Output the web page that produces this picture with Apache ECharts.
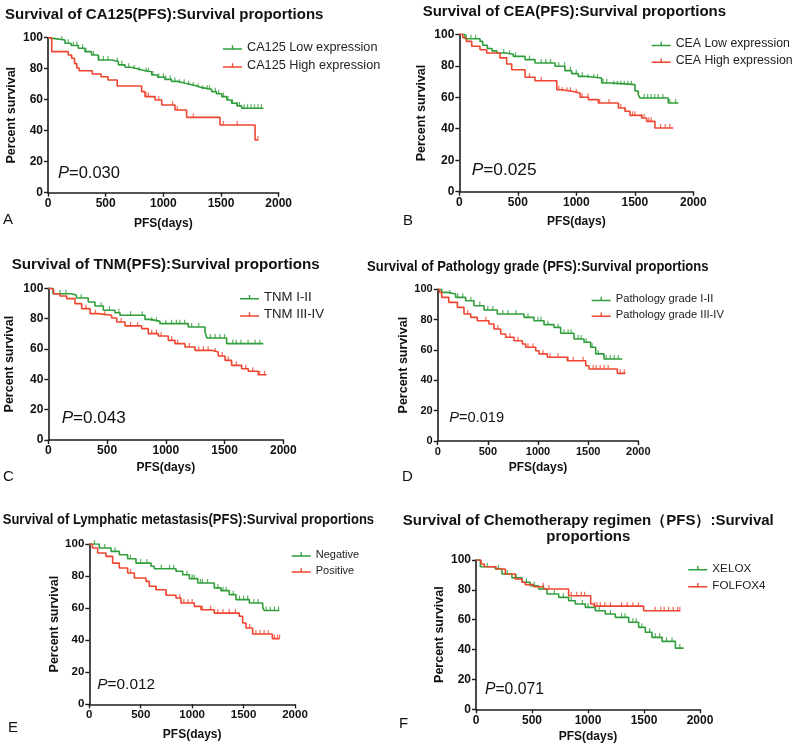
<!DOCTYPE html>
<html><head><meta charset="utf-8">
<script src="https://cdn.jsdelivr.net/npm/echarts@6/dist/echarts.min.js"></script>
<style>html,body{margin:0;padding:0;background:#fff}#c{width:800px;height:746px}</style>
</head><body><div id="c"></div>
<script>
// ---------------- DATA ----------------
const xTicks = [0, 500, 1000, 1500, 2000];
const yTicks = [0, 20, 40, 60, 80, 100];

// Panel A: CA125
const aLow = [[0,100],[17,99.4],[60,98.5],[147,96.4],[200,95],[263,93.2],[320,91],[378,88.8],[436,85.6],[552,84.6],[610,82.5],[668,80.9],[720,79.8],[783,78.7],[841,78],[899,75.9],[950,74.5],[1014,73.1],[1070,71.8],[1130,70.6],[1190,69.7],[1246,68.8],[1290,67.8],[1332,66.7],[1419,65.2],[1460,63.8],[1506,62],[1550,59.8],[1592,57.7],[1640,56],[1679,54.5],[1867,54.5]];
const aHigh = [[0,100],[32,91],[176,88.8],[205,86.7],[230,83.3],[250,80.5],[270,78.7],[384,76.6],[460,74.8],[520,72.7],[600,68.8],[812,65.2],[841,62],[928,59.8],[986,56.6],[1101,53.4],[1202,48.6],[1491,43.7],[1795,34],[1823,34]];
const aLowCens = [120,176,220,250,300,330,395,440,480,520,600,640,700,745,790,850,870,910,960,1000,1020,1060,1100,1140,1180,1220,1260,1300,1340,1380,1400,1450,1480,1520,1560,1600,1640,1660,1700,1730,1760,1790,1820,1850];
const aHighCens = [850,870,960,1080,1120,1260,1520,1640,1820];

// Panel B: CEA
const bLow = [[0,100],[49,97.2],[177,95.5],[200,93],[240,91],[280,89.5],[320,88.1],[400,87.3],[462,86],[562,83.9],[647,81.8],[818,79.7],[903,76.9],[960,75],[1017,73.3],[1074,72.2],[1217,69.1],[1302,68],[1502,64],[1530,61.5],[1545,59.5],[1786,56.4],[1872,56.4]];
const bHigh = [[0,100],[30,97.8],[60,95.5],[106,92.4],[177,90.2],[234,88.1],[348,85],[405,81.1],[448,77.5],[562,72.7],[647,70.5],[833,64.8],[875,63.8],[960,62.7],[1032,60],[1103,58.5],[1188,56.4],[1360,53.2],[1416,51.1],[1459,48.5],[1559,46.8],[1601,44.7],[1672,40.5],[1829,40.5]];
const bLowCens = [60,100,140,380,430,480,600,700,740,780,850,900,950,1000,1050,1100,1150,1180,1230,1260,1320,1350,1380,1410,1440,1470,1580,1610,1640,1670,1700,1740,1800,1850];
const bHighCens = [600,700,850,880,920,950,1000,1050,1100,1200,1280,1380,1420,1480,1500,1560,1580,1620,1640,1720,1760,1800];

// Panel C: TNM
const cLow = [[0,100],[40,96.4],[199,95.4],[240,93.6],[340,91],[397,88.3],[468,85.5],[567,83.9],[610,82.2],[823,79.5],[870,78.2],[950,76.7],[1191,74.5],[1334,71.2],[1350,67.2],[1518,63.5],[1830,63.5]];
const cHigh = [[0,100],[20,99],[45,96.4],[99,94.9],[156,93.2],[227,89.9],[284,86.6],[355,83.3],[426,82.2],[539,80.4],[582,77.8],[653,75.2],[795,73.4],[851,70.1],[936,68.6],[1021,65.7],[1078,63.5],[1163,61.3],[1248,59.1],[1390,58],[1447,55.4],[1504,52.5],[1560,49.2],[1645,47],[1702,45.3],[1787,43],[1858,43]];
const cLowCens = [100,150,280,450,520,600,700,800,880,920,1000,1050,1090,1120,1160,1220,1280,1380,1420,1460,1500,1570,1600,1640,1700,1760,1800];
const cHighCens = [320,400,480,620,700,760,880,920,960,1050,1100,1200,1280,1320,1360,1420,1480,1530,1600,1680,1740,1800,1840];

// Panel D: Pathology grade
const dLow = [[0,100],[40,98],[96,96.9],[179,94.7],[279,92.5],[362,89.2],[462,86.4],[594,83.7],[860,81.5],[960,79.3],[1060,76.7],[1160,74.9],[1226,71],[1359,67.2],[1459,65.1],[1525,61.8],[1575,57.4],[1658,54.1],[1840,54.1]];
const dHigh = [[0,100],[20,98],[40,94.7],[110,91.4],[196,88.1],[262,83.7],[329,81.5],[395,79.3],[511,77.1],[561,73.8],[628,70.5],[678,68.4],[761,66.1],[844,63.9],[877,61.8],[977,59.5],[1010,57.4],[1093,55.2],[1292,52.9],[1476,49.6],[1508,47.5],[1791,44.6],[1874,44.6]];
const dLowCens = [120,200,250,330,420,500,550,650,700,780,900,1000,1030,1100,1200,1260,1300,1330,1400,1430,1480,1540,1600,1680,1720,1760,1800];
const dHighCens = [300,480,600,720,800,900,950,1050,1120,1200,1300,1350,1450,1550,1580,1620,1660,1700,1820,1860];

// Panel E: Lymphatic metastasis
const eNeg = [[0,100],[97,97.5],[211,95.4],[292,93.3],[373,90.8],[454,88.1],[600,86.1],[632,84.6],[843,83],[908,80.8],[973,78.4],[1054,75.7],[1215,72.6],[1280,70.9],[1361,68.4],[1426,65.3],[1556,63.2],[1686,60.5],[1700,58.5],[1847,58.5]];
const ePos = [[0,100],[30,97.5],[81,94.4],[162,92.3],[227,88.1],[292,85],[373,81.9],[438,78.8],[551,76.7],[583,73.6],[648,71.5],[746,68],[843,66.3],[891,63.2],[1021,61.1],[1086,59],[1215,56.9],[1458,54.9],[1491,50.7],[1523,47.6],[1588,43.9],[1780,41],[1850,41]];
const eNegCens = [50,150,250,400,500,560,700,780,820,950,1000,1020,1080,1100,1150,1250,1300,1330,1400,1460,1500,1540,1600,1640,1720,1760,1800,1840];
const ePosCens = [400,650,750,880,920,960,1000,1100,1180,1250,1300,1360,1420,1560,1620,1660,1700,1740,1800,1830,1850];

// Panel F: Chemotherapy regimen
const fXelox = [[0,100],[39,95.5],[173,94],[232,90.6],[321,88],[411,85.1],[485,82.8],[560,80.6],[634,77.2],[738,75],[827,72.7],[887,70.5],[976,68.3],[1065,66],[1155,63.8],[1244,61.6],[1363,58.3],[1452,54.9],[1512,51.6],[1571,48.2],[1661,45.5],[1780,41],[1854,41]];
const fFolfox = [[0,100],[45,97.3],[74,95.5],[179,94],[262,90.6],[351,87.3],[411,85.1],[440,83.5],[515,82.1],[604,80.6],[827,76.1],[1024,70.5],[1054,69.1],[1497,66],[1824,66]];
const fXeloxCens = [100,200,280,360,450,520,600,700,780,850,950,1000,1100,1200,1300,1330,1400,1430,1480,1550,1600,1640,1700,1750,1820];
const fFolfoxCens = [600,650,850,900,940,970,1060,1080,1110,1150,1200,1300,1350,1400,1450,1600,1650,1680,1720,1760,1800,1820];

const titles = [
  'Survival of CA125(PFS):Survival proportions',
  'Survival of CEA(PFS):Survival proportions',
  'Survival of TNM(PFS):Survival proportions',
  'Survival of Pathology grade (PFS):Survival proportions',
  'Survival of Lymphatic metastasis(PFS):Survival proportions',
  'Survival of Chemotherapy regimen（PFS）:Survival\nproportions'
];
const groupNames = [
  ['CA125 Low expression', 'CA125 High expression'],
  ['CEA Low expression', 'CEA High expression'],
  ['TNM I-II', 'TNM III-IV'],
  ['Pathology grade I-II', 'Pathology grade III-IV'],
  ['Negative', 'Positive'],
  ['XELOX', 'FOLFOX4']
];
const pValues = ['0.030', '0.025', '0.043', '0.019', '0.012', '0.071'];
const letters = ['A', 'B', 'C', 'D', 'E', 'F'];
const curves = [[aLow, aHigh], [bLow, bHigh], [cLow, cHigh], [dLow, dHigh], [eNeg, ePos], [fXelox, fFolfox]];
const censored = [[aLowCens, aHighCens], [bLowCens, bHighCens], [cLowCens, cHighCens], [dLowCens, dHighCens], [eNegCens, ePosCens], [fXeloxCens, fFolfoxCens]];
const xName = 'PFS(days)';
const yName = 'Percent survival';

// ---------------- LAYOUT ----------------
const layout = [
  {grid:{left:48, top:37.7, width:230.7, height:155}, yGap:30, xGap:25, tick:12,
   leg:{left:223, top:41, fs:12.7, gap:5}, p:{x:58, y:173, fs:16.5}, t:{x:5, y:15, fs:15, sx:1, align:'left'}, l:{x:3, y:220}},
  {grid:{left:459.3, top:34.3, width:234, height:157.4}, yGap:31.6, xGap:24, tick:12,
   leg:{left:651.7, top:38, fs:12.3, gap:4.7}, p:{x:471.7, y:170, fs:17.3}, t:{x:422.7, y:12, fs:15, sx:1, align:'left'}, l:{x:403, y:221}},
  {grid:{left:48.3, top:288.3, width:235, height:151.7}, yGap:32, xGap:21.5, tick:12,
   leg:{left:240, top:290.7, fs:13.2, gap:4.3}, p:{x:61.7, y:418, fs:17.1}, t:{x:11.7, y:265, fs:15.2, sx:1, align:'left'}, l:{x:3, y:477}},
  {grid:{left:437.7, top:289.3, width:200.6, height:151.7}, yGap:26.7, xGap:21, tick:11,
   leg:{left:591.7, top:293.5, fs:11.2, gap:4.7}, p:{x:449.3, y:418.3, fs:14.6}, t:{x:367, y:266.7, fs:15.5, sx:0.84, align:'left'}, l:{x:402, y:477}},
  {grid:{left:89.3, top:544, width:205.7, height:160.3}, yGap:26.7, xGap:24.7, tick:11.5,
   leg:{left:291.7, top:549, fs:11, gap:5}, p:{x:97.3, y:685, fs:15.4}, t:{x:2.7, y:520, fs:15.5, sx:0.84, align:'left'}, l:{x:8, y:728}},
  {grid:{left:476, top:560, width:224, height:149.3}, yGap:30, xGap:21.4, tick:12,
   leg:{left:688.3, top:562.3, fs:11.7, gap:5}, p:{x:485, y:690, fs:15.7}, t:{x:588.3, y:529, fs:15, sx:1, align:'center', lh:16.3}, l:{x:399, y:724}}
];

const COLORS = ['#2f9e3b', '#f0452f'];
const FONT = '"Liberation Sans", Arial, sans-serif';
const AX = '#1c1c1c';

function stepAt(curve, t) {
  let v = curve[0][1];
  for (const pt of curve) { if (pt[0] <= t) v = pt[1]; else break; }
  return v;
}

const grid = [], xAxis = [], yAxis = [], series = [], legend = [], graphic = [];
const legendIcon = 'path://M0,3.2 L20,3.2 L20,4.8 L0,4.8 Z M9.3,0 L10.7,0 L10.7,3.4 L9.3,3.4 Z';
const plainNum = v => String(v);

layout.forEach((L, i) => {
  grid.push(Object.assign({containLabel:false}, L.grid));
  xAxis.push({
    type:'value', gridIndex:i, min:xTicks[0], max:xTicks[xTicks.length-1], interval:xTicks[1]-xTicks[0],
    name:xName, nameLocation:'middle', nameGap:L.xGap,
    nameTextStyle:{fontFamily:FONT, fontWeight:'bold', fontSize:12, color:'#111', verticalAlign:'top'},
    axisLine:{show:true, onZero:false, lineStyle:{color:AX, width:1.6}},
    axisTick:{show:true, length:4, lineStyle:{color:AX, width:1.4}},
    axisLabel:{fontFamily:FONT, fontWeight:'bold', fontSize:L.tick, color:'#111', margin:5, formatter:plainNum},
    splitLine:{show:false}
  });
  yAxis.push({
    type:'value', gridIndex:i, min:yTicks[0], max:yTicks[yTicks.length-1], interval:yTicks[1]-yTicks[0],
    name:yName, nameLocation:'middle', nameGap:L.yGap,
    nameTextStyle:{fontFamily:FONT, fontWeight:'bold', fontSize:12.5, color:'#111'},
    axisLine:{show:true, onZero:false, lineStyle:{color:AX, width:1.6}},
    axisTick:{show:true, length:4, lineStyle:{color:AX, width:1.4}},
    axisLabel:{fontFamily:FONT, fontWeight:'bold', fontSize:L.tick, color:'#111', margin:5, formatter:plainNum},
    splitLine:{show:false}
  });
  curves[i].forEach((cv, k) => {
    series.push({
      type:'line', name:groupNames[i][k], xAxisIndex:i, yAxisIndex:i, data:cv, step:'end',
      showSymbol:false, symbol:'none', color:COLORS[k],
      lineStyle:{color:COLORS[k], width:1.6}, animation:false, z:3
    });
    series.push({
      type:'scatter', name:groupNames[i][k] + ' (censored)', xAxisIndex:i, yAxisIndex:i,
      data:censored[i][k].map(t => [t, stepAt(cv, t)]),
      symbol:'rect', symbolSize:[1.2, 4], symbolOffset:[0, -2],
      itemStyle:{color:COLORS[k]}, animation:false, z:4, silent:true
    });
  });
  legend.push({
    data:groupNames[i].map(n => ({name:n, icon:legendIcon})),
    left:L.leg.left, top:L.leg.top, orient:'vertical', itemWidth:19, itemHeight:5, itemGap:L.leg.gap,
    textStyle:{fontFamily:FONT, fontSize:L.leg.fs, color:'#222'}, selectedMode:false, padding:0
  });
  graphic.push({
    type:'text', x:L.t.x, y:L.t.y, scaleX:L.t.sx, silent:true,
    style:{text:titles[i], fontFamily:FONT, fontWeight:'bold', fontSize:L.t.fs, fill:'#111',
      align:L.t.align, verticalAlign:'middle', lineHeight:L.t.lh || L.t.fs*1.2}
  });
  graphic.push({
    type:'text', x:L.p.x, y:L.p.y, silent:true,
    style:{text:'{i|P}=' + pValues[i], fontFamily:FONT, fontSize:L.p.fs, fill:'#111', verticalAlign:'middle',
      rich:{i:{fontStyle:'italic', fontFamily:FONT, fontSize:L.p.fs, fill:'#111'}}}
  });
  graphic.push({
    type:'text', x:L.l.x, y:L.l.y, silent:true,
    style:{text:letters[i], fontFamily:FONT, fontSize:15, fill:'#111', verticalAlign:'middle'}
  });
});

const chart = echarts.init(document.getElementById('c'), null, {renderer:'canvas'});
chart.setOption({
  animation:false, backgroundColor:'#fff',
  grid, xAxis, yAxis, series, legend, graphic
});
</script>
</body></html>
